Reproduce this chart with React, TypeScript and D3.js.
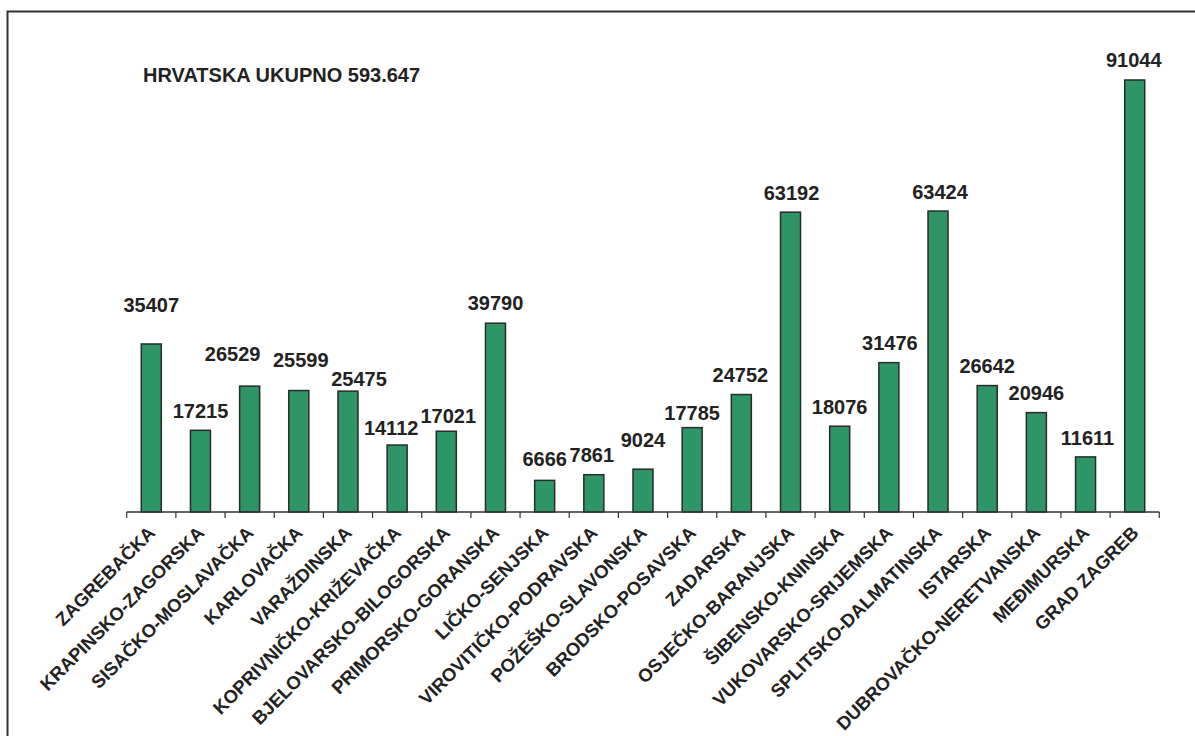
import React from "react";
import * as d3 from "d3";

const categories = [
  "ZAGREBAČKA",
  "KRAPINSKO-ZAGORSKA",
  "SISAČKO-MOSLAVAČKA",
  "KARLOVAČKA",
  "VARAŽDINSKA",
  "KOPRIVNIČKO-KRIŽEVAČKA",
  "BJELOVARSKO-BILOGORSKA",
  "PRIMORSKO-GORANSKA",
  "LIČKO-SENJSKA",
  "VIROVITIČKO-PODRAVSKA",
  "POŽEŠKO-SLAVONSKA",
  "BRODSKO-POSAVSKA",
  "ZADARSKA",
  "OSJEČKO-BARANJSKA",
  "ŠIBENSKO-KNINSKA",
  "VUKOVARSKO-SRIJEMSKA",
  "SPLITSKO-DALMATINSKA",
  "ISTARSKA",
  "DUBROVAČKO-NERETVANSKA",
  "MEĐIMURSKA",
  "GRAD ZAGREB",
];

const values = [
  35407, 17215, 26529, 25599, 25475, 14112, 17021, 39790, 6666, 7861, 9024,
  17785, 24752, 63192, 18076, 31476, 63424, 26642, 20946, 11611, 91044,
];

const totalLabel = "HRVATSKA UKUPNO 593.647";

// manual label placement (pixels) as in the original chart
const labelDx = [0, 0, -17, 2, 11, -6, 2, 0, 0, -2, 0, 0, -1, 1, 0, 1, 2, 0, 0, 2, -1];
const labelGap = [39, 20, 32, 31, 12, 17, 15, 20, 22, 20, 29, 15, 20, 19, 19, 20, 19, 20, 20, 19, 20];

const W = 1195;
const H = 736;
const axisY = 512;
const left = 126.7;
const right = 1159.3;

export default function App() {
  const x = d3
    .scaleBand<string>()
    .domain(categories)
    .range([left, right])
    .paddingInner(0.593)
    .paddingOuter(0.2965);
  const y = d3.scaleLinear().domain([0, 100000]).range([axisY, 37.5]);
  const step = x.step();
  const font = "Arial, 'Liberation Sans', Helvetica, sans-serif";
  const ticks = d3.range(categories.length + 1).map((i) => left + i * step);

  return (
    <svg
      width={W}
      height={H}
      style={{ position: "fixed", left: 0, top: 0, background: "#fff" }}
    >
      <rect x={0} y={0} width={W} height={H} fill="#fff" />
      <rect
        x={7.5}
        y={11.5}
        width={1400}
        height={900}
        fill="none"
        stroke="#333"
        strokeWidth={2}
      />
      <text
        x={143}
        y={82}
        fontFamily={font}
        fontWeight="bold"
        fontSize={20}
        fill="#222"
      >
        {totalLabel}
      </text>
      {categories.map((c, i) => {
        const bx = x(c)!;
        const by = y(values[i]);
        return (
          <rect
            key={c}
            x={bx}
            y={by}
            width={x.bandwidth()}
            height={axisY - by}
            fill="#2E9566"
            stroke="#2a2a2a"
            strokeWidth={1.5}
          />
        );
      })}
      <line x1={left} x2={right} y1={axisY} y2={axisY} stroke="#333" strokeWidth={1.5} />
      {ticks.map((t, i) => (
        <line key={i} x1={t} x2={t} y1={axisY} y2={axisY + 6} stroke="#333" strokeWidth={1.2} />
      ))}
      {categories.map((c, i) => {
        const cx = x(c)! + x.bandwidth() / 2 + labelDx[i];
        const cy = y(values[i]) - labelGap[i];
        return (
          <text
            key={c + "v"}
            x={cx}
            y={cy}
            dy="0.36em"
            textAnchor="middle"
            fontFamily={font}
            fontWeight="bold"
            fontSize={20}
            fill="#222"
          >
            {values[i]}
          </text>
        );
      })}
      {categories.map((c, i) => {
        const cx = x(c)! + x.bandwidth() / 2;
        return (
          <text
            key={c + "l"}
            transform={`translate(${cx + 5},${axisY + 22}) rotate(-45)`}
            textAnchor="end"
            fontFamily={font}
            fontWeight="bold"
            fontSize={18.5}
            fill="#222"
          >
            {c}
          </text>
        );
      })}
    </svg>
  );
}
